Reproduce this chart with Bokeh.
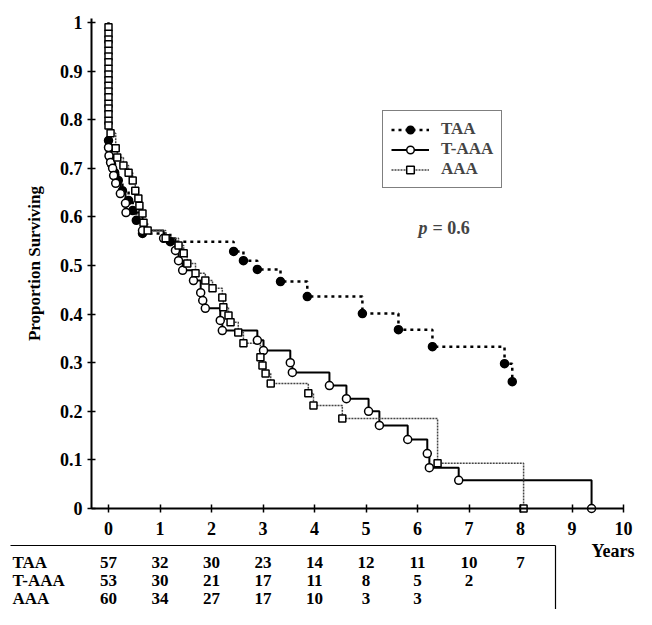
from bokeh.plotting import figure
from bokeh.models import Range1d, FixedTicker, Legend, LegendItem, Label
from bokeh.embed import file_html
from bokeh.resources import INLINE
from bokeh.core.properties import value

FONT = "Liberation Serif"

# ---- data (years, proportion surviving at each event) ----
taa_t = [0.0, 0.01, 0.02, 0.06, 0.12, 0.19, 0.27, 0.39, 0.47, 0.54, 0.66, 1.20,
         2.43, 2.62, 2.89, 3.34, 3.86, 4.93, 5.63, 6.29, 7.69, 7.84]
taa_s = [0.757, 0.741, 0.724, 0.708, 0.691, 0.675, 0.654, 0.634, 0.613, 0.593, 0.566, 0.549,
         0.529, 0.510, 0.492, 0.467, 0.436, 0.401, 0.368, 0.333, 0.298, 0.261]

taaa_t = [0.0, 0.01, 0.04, 0.08, 0.10, 0.14, 0.23, 0.33, 0.34, 0.66, 1.07, 1.30, 1.36,
          1.44, 1.65, 1.79, 1.83, 1.88, 2.17, 2.21, 2.89, 3.01, 3.53, 3.57, 4.29, 4.62,
          5.05, 5.26, 5.81, 6.19, 6.23, 6.80, 9.38]
taaa_s = [0.743, 0.726, 0.712, 0.700, 0.685, 0.669, 0.648, 0.628, 0.609, 0.572, 0.556, 0.531,
          0.510, 0.490, 0.469, 0.444, 0.428, 0.412, 0.387, 0.366, 0.346, 0.325, 0.300, 0.280,
          0.253, 0.226, 0.200, 0.171, 0.142, 0.113, 0.084, 0.058, 0.0]

aaa_t = [0.0, 0.0, 0.0, 0.0, 0.0, 0.0, 0.0, 0.0, 0.0, 0.0, 0.0, 0.0, 0.0, 0.0, 0.0, 0.0,
         0.0, 0.0, 0.04, 0.14, 0.17, 0.29, 0.39, 0.47, 0.52, 0.58, 0.60, 0.66, 0.68, 0.76,
         1.11, 1.36, 1.46, 1.53, 1.69, 1.88, 2.02, 2.21, 2.23, 2.33, 2.37, 2.52, 2.62, 2.95,
         2.99, 3.05, 3.15, 3.88, 3.98, 4.54, 6.39, 8.06]
aaa_s = [0.990, 0.977, 0.965, 0.955, 0.942, 0.930, 0.918, 0.905, 0.893, 0.881, 0.870, 0.858,
         0.846, 0.833, 0.823, 0.811, 0.798, 0.788, 0.772, 0.741, 0.722, 0.706, 0.691, 0.675,
         0.654, 0.638, 0.623, 0.607, 0.588, 0.572, 0.556, 0.541, 0.525, 0.504, 0.484, 0.469,
         0.453, 0.434, 0.414, 0.397, 0.383, 0.362, 0.340, 0.311, 0.294, 0.278, 0.257, 0.237,
         0.212, 0.185, 0.093, 0.0]

x_ticks = [0, 1, 2, 3, 4, 5, 6, 7, 8, 9, 10]
y_ticks = [0, 0.1, 0.2, 0.3, 0.4, 0.5, 0.6, 0.7, 0.8, 0.9, 1]
y_tick_labels = ["0", "0.1", "0.2", "0.3", "0.4", "0.5", "0.6", "0.7", "0.8", "0.9", "1"]

risk_groups = ["TAA", "T-AAA", "AAA"]
taa_risk = [57, 32, 30, 23, 14, 12, 11, 10, 7]
taaa_risk = [53, 30, 21, 17, 11, 8, 5, 2]
aaa_risk = [60, 34, 27, 17, 10, 3, 3]

# ---- layout geometry (pixels of the picture) ----
W, H = 636, 609
PX_YEAR = 51.5
X0 = 108.0       # pixel x of year 0
Y0 = 508.0       # pixel y of proportion 0
PX_UNIT = 486.0  # pixels per proportion 1.0


def xd(px):
    return (px - X0) / PX_YEAR


def yd(py):
    return (Y0 - py) / PX_UNIT


p = figure(width=W, height=H, x_range=Range1d(xd(0), xd(W)), y_range=Range1d(yd(H), yd(0)),
           min_border=0, output_backend="svg", toolbar_location=None)
p.grid.visible = False
p.outline_line_color = None

AXIS_X = xd(91)
p.xaxis.fixed_location = 0
p.yaxis.fixed_location = AXIS_X
p.xaxis.ticker = FixedTicker(ticks=x_ticks)
p.xaxis.bounds = (AXIS_X, 10)
p.yaxis.bounds = (0, yd(18))
p.yaxis.ticker = FixedTicker(ticks=y_ticks)
p.yaxis.major_label_overrides = dict(zip(y_ticks, y_tick_labels))
p.yaxis.axis_label = "Proportion Surviving"
p.yaxis.axis_label_text_font = FONT
p.yaxis.axis_label_text_font_style = "bold"
p.yaxis.axis_label_text_font_size = "17px"
p.yaxis.axis_label_text_color = "black"
p.yaxis.axis_label_standoff = 13
for ax in (p.xaxis, p.yaxis):
    ax.axis_line_width = 2
    ax.axis_line_color = "black"
    ax.major_tick_line_width = 1.5
    ax.major_tick_in = 4
    ax.major_tick_out = 4
    ax.minor_tick_line_color = None
    ax.major_label_text_font = FONT
    ax.major_label_text_font_style = "bold"
    ax.major_label_text_font_size = "18px"
    ax.major_label_text_color = "black"
p.xaxis.major_label_standoff = 9
p.yaxis.major_label_standoff = 5

taa_line = p.step(x=[0] + taa_t, y=[1] + taa_s, mode="after", line_color="black",
                  line_width=2.5, line_dash="3 4")
taaa_line = p.step(x=[0] + taaa_t, y=[1] + taaa_s, mode="after", line_color="black",
                   line_width=2)
aaa_line = p.step(x=[0] + aaa_t, y=[1] + aaa_s, mode="after", line_color="#444444",
                  line_width=1.5, line_dash="2 1")

taa_pts = p.scatter(taa_t, taa_s, marker="circle", size=8, fill_color="black",
                    line_color="black", line_width=1.5)
taaa_pts = p.scatter(taaa_t, taaa_s, marker="circle", size=8, fill_color="white",
                     line_color="black", line_width=1.5)
aaa_pts = p.scatter(aaa_t, aaa_s, marker="square", size=7, fill_color="white",
                    line_color="black", line_width=1.5)

legend = Legend(items=[
    LegendItem(label="TAA", renderers=[taa_line, taa_pts]),
    LegendItem(label="T-AAA", renderers=[taaa_line, taaa_pts]),
    LegendItem(label="AAA", renderers=[aaa_line, aaa_pts]),
], location=(382, H - 188))
legend.label_text_font = FONT
legend.label_text_font_style = "bold"
legend.label_text_font_size = "17px"
legend.glyph_width = 38
legend.glyph_height = 19
legend.label_height = 19
legend.label_standoff = 12
legend.spacing = 0
legend.padding = 8
legend.margin = 0
legend.border_line_color = "black"
legend.border_line_width = 1.5
legend.background_fill_alpha = 1
p.add_layout(legend, "center")

p.add_layout(Label(x=xd(418), y=yd(227), text="p", text_font=FONT,
                   text_font_style="bold italic", text_font_size="18px",
                   text_baseline="middle", text_align="left"))
p.add_layout(Label(x=xd(432), y=yd(227), text="= 0.6", text_font=FONT,
                   text_font_style="bold", text_font_size="18px",
                   text_baseline="middle", text_align="left"))

# ---- number-at-risk table ----
row_px = [562, 580, 598]
for name, counts, ry in zip(risk_groups, [taa_risk, taaa_risk, aaa_risk], row_px):
    p.text(x=[xd(12)], y=[yd(ry)], text=[name], text_font=value(FONT),
           text_font_style="bold", text_font_size="17px", text_align="left",
           text_baseline="middle", text_color="black")
    p.text(x=x_ticks[:len(counts)], y=[yd(ry)] * len(counts), text=[str(c) for c in counts],
           text_font=value(FONT), text_font_style="bold", text_font_size="17px",
           text_align="center", text_baseline="middle", text_color="black")

p.line(x=[xd(10), xd(555)], y=[yd(545), yd(545)], line_color="black", line_width=1.2)
p.line(x=[xd(555), xd(555)], y=[yd(545), yd(H)], line_color="black", line_width=1.2)
p.text(x=[xd(591)], y=[yd(550)], text=["Years"], text_font=value(FONT), text_font_style="bold",
       text_font_size="18px", text_align="left", text_baseline="middle", text_color="black")

open("out.html", "w").write(file_html(p, INLINE))
